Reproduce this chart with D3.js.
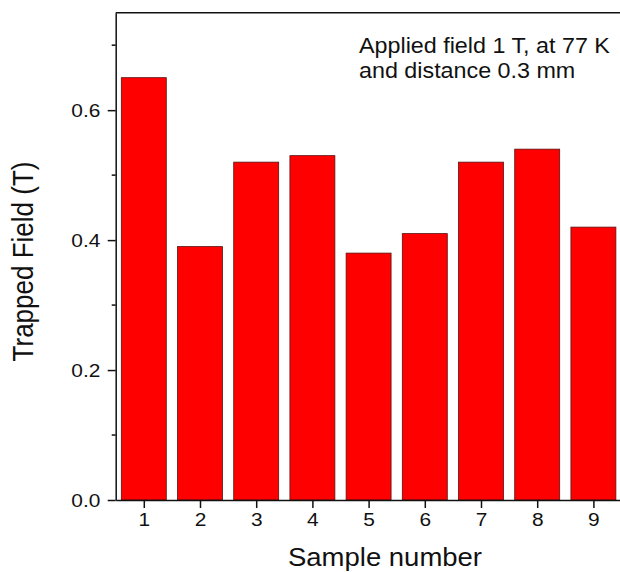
<!DOCTYPE html>
<html>
<head>
  <meta http-equiv="Content-Type" content="text/html;charset=utf-8" />
  <style type="text/css">
    body { margin: 0; background: #fff; }
    svg text { font-family: "Liberation Sans", Arial, sans-serif; fill: #111; }
  </style>
</head>
<body>
  <div id="svgContainer"></div>
  <script src="https://d3js.org/d3.v7.min.js"></script>
  <script type="text/javascript">
    var samples = [1, 2, 3, 4, 5, 6, 7, 8, 9];
    var trapped = [0.65, 0.39, 0.52, 0.53, 0.38, 0.41, 0.52, 0.54, 0.42];
    var yMajor = [0.0, 0.2, 0.4, 0.6];
    var yMinor = [0.1, 0.3, 0.5, 0.7];
    var note = ["Applied field 1 T, at 77 K", "and distance 0.3 mm"];

    var w = 620, h = 572;
    var plotL = 115.7, plotR = 621.5, plotT = 12.7, plotB = 500;
    var sx = 1.1; // the picture is a bit wider than tall

    var svg = d3.select("#svgContainer")
      .append("svg")
      .attr("width", w)
      .attr("height", h);

    var x = d3.scaleLinear().domain([0.5, 9.5]).range([plotL, plotR]);
    var y = d3.scaleLinear().domain([0, 0.75]).range([plotB, plotT]);

    // bars
    svg.selectAll("rect.bar")
      .data(samples)
      .enter().append("rect")
      .attr("class", "bar")
      .attr("x", function (d) { return x(d - 0.4); })
      .attr("width", function (d) { return x(d + 0.4) - x(d - 0.4); })
      .attr("y", function (d, i) { return y(trapped[i]); })
      .attr("height", function (d, i) { return y(0) - y(trapped[i]); })
      .attr("fill", "#ff0000")
      .attr("stroke", "#5a1010")
      .attr("stroke-width", 0.8);

    // frame (top + right)
    svg.append("path")
      .attr("d", "M" + plotL + "," + plotT + "H" + plotR + "V" + plotB)
      .attr("fill", "none")
      .attr("stroke", "#111")
      .attr("stroke-width", 1.5);

    // y axis
    var yAxis = d3.axisLeft(y).tickValues(yMajor).tickFormat(d3.format(".1f")).tickSize(8).tickSizeOuter(0);
    var gy = svg.append("g").attr("transform", "translate(" + plotL + ",0)").call(yAxis);
    gy.select(".domain").attr("stroke", "#111").attr("stroke-width", 1.5);
    gy.selectAll(".tick line").attr("stroke", "#111").attr("stroke-width", 1.5);
    gy.selectAll(".tick text")
      .attr("x", -14)
      .attr("transform", "scale(" + sx + ",1)")
      .style("font-size", "19px");

    svg.append("g").selectAll("line")
      .data(yMinor)
      .enter().append("line")
      .attr("x1", plotL - 4).attr("x2", plotL)
      .attr("y1", function (d) { return y(d); })
      .attr("y2", function (d) { return y(d); })
      .attr("stroke", "#111").attr("stroke-width", 1.5);

    // x axis
    var xAxis = d3.axisBottom(x).tickValues(samples).tickFormat(d3.format("d")).tickSize(8).tickSizeOuter(0);
    var gx = svg.append("g").attr("transform", "translate(0," + plotB + ")").call(xAxis);
    gx.select(".domain").attr("stroke", "#111").attr("stroke-width", 1.5);
    gx.selectAll(".tick line").attr("stroke", "#111").attr("stroke-width", 1.5);
    gx.selectAll(".tick text")
      .attr("y", 13)
      .attr("transform", "scale(" + sx + ",1)")
      .style("font-size", "19px");

    // axis titles
    svg.append("text")
      .attr("transform", "translate(385,566) scale(" + sx + ",1)")
      .attr("text-anchor", "middle")
      .style("font-size", "25px")
      .text("Sample number");

    svg.append("text")
      .attr("transform", "translate(33,261.5) scale(" + sx + ",1) rotate(-90)")
      .attr("text-anchor", "middle")
      .style("font-size", "26px")
      .text("Trapped Field (T)");

    // note
    svg.append("g")
      .attr("transform", "translate(359,0) scale(" + sx + ",1)")
      .selectAll("text")
      .data(note)
      .enter().append("text")
      .attr("x", 0)
      .attr("y", function (d, i) { return 53 + i * 25; })
      .style("font-size", "21.2px")
      .text(function (d) { return d; });
  </script>
</body>
</html>
